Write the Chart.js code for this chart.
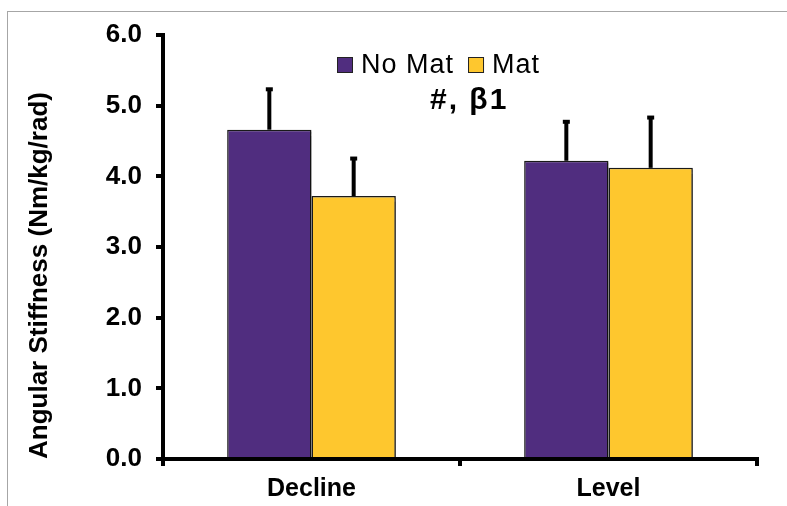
<!DOCTYPE html>
<html>
<head>
<meta charset="utf-8">
<script src="https://cdn.jsdelivr.net/npm/chart.js@4.4.0/dist/chart.umd.min.js"></script>
<style>
  html, body { margin: 0; padding: 0; background: #fff; }
  canvas { display: block; }
</style>
</head>
<body>
<canvas id="stiffness-chart" width="787" height="506"></canvas>
<script>
// values
const categories = ["Decline", "Level"];
const seriesNames = ["No Mat", "Mat"];
const noMatValues = [4.66, 4.22];
const matValues = [3.72, 4.12];
const noMatErrors = [0.60, 0.58];
const matErrors = [0.56, 0.74];
const yMin = 0;
const yMax = 6;
const yStep = 1;
const annotationText = "#, β1";

const PURPLE = "#502D7F";
const YELLOW = "#FEC72E";
const FONT = "'Liberation Sans', Arial, sans-serif";

// grey frame around the figure
const framePlugin = {
  id: "frame",
  beforeDraw(chart) {
    const ctx = chart.ctx;
    ctx.save();
    ctx.fillStyle = "#fff";
    ctx.fillRect(0, 0, chart.width, chart.height);
    ctx.strokeStyle = "#a6a6a6";
    ctx.lineWidth = 1;
    ctx.strokeRect(7.5, 11.5, chart.width + 20, chart.height + 20);
    ctx.restore();
  },
};

// bar shadow + upper error whiskers
const errorBarPlugin = {
  id: "errorBars",
  beforeDatasetsDraw(chart) {
    const ctx = chart.ctx;
    ctx.save();
    ctx.shadowColor = "rgba(0,0,0,0.28)";
    ctx.shadowOffsetX = 2;
    ctx.shadowOffsetY = 2;
    ctx.shadowBlur = 1;
  },
  afterDatasetsDraw(chart) {
    const ctx = chart.ctx;
    ctx.restore();
    const yScale = chart.scales.y;
    ctx.save();
    ctx.strokeStyle = "#000";
    ctx.fillStyle = "#000";
    ctx.lineWidth = 4;
    chart.data.datasets.forEach((ds, i) => {
      const meta = chart.getDatasetMeta(i);
      meta.data.forEach((bar, j) => {
        const top = yScale.getPixelForValue(ds.data[j] + ds.errors[j]);
        ctx.beginPath();
        ctx.moveTo(bar.x, bar.y);
        ctx.lineTo(bar.x, top + 2);
        ctx.stroke();
        ctx.fillRect(bar.x - 3.5, top, 7, 4);
      });
    });
    ctx.restore();
  },
};

// legend and significance label
const labelsPlugin = {
  id: "labels",
  afterDraw(chart) {
    const ctx = chart.ctx;
    ctx.save();
    ctx.font = "27px " + FONT;
    ctx.letterSpacing = "1px";
    ctx.textBaseline = "middle";
    let x = 337;
    const y = 65;
    chart.data.datasets.forEach((ds) => {
      ctx.fillStyle = ds.backgroundColor;
      ctx.fillRect(x, y - 8, 16, 16);
      ctx.strokeStyle = "#222";
      ctx.lineWidth = 1;
      ctx.strokeRect(x + 0.5, y - 7.5, 15, 15);
      ctx.fillStyle = "#000";
      ctx.fillText(ds.label, x + 24, y + 1);
      x += 24 + ctx.measureText(ds.label).width + 14;
    });
    ctx.font = "bold 30px " + FONT;
    ctx.letterSpacing = "2px";
    ctx.textBaseline = "alphabetic";
    ctx.fillText(annotationText, 430, 109);
    ctx.restore();
  },
};

const axisGrid = {
  display: true,
  drawOnChartArea: false,
  drawTicks: true,
  tickLength: 7,
  tickWidth: 4,
  tickColor: "#000",
  color: "#000",
  lineWidth: 4,
};

new Chart(document.getElementById("stiffness-chart"), {
  type: "bar",
  data: {
    labels: categories,
    datasets: [
      {
        label: seriesNames[0],
        data: noMatValues,
        errors: noMatErrors,
        backgroundColor: PURPLE,
        borderColor: "#1a1a1a",
        borderWidth: 1.5,
      },
      {
        label: seriesNames[1],
        data: matValues,
        errors: matErrors,
        backgroundColor: YELLOW,
        borderColor: "#1a1a1a",
        borderWidth: 1.5,
      },
    ],
  },
  options: {
    responsive: false,
    animation: false,
    devicePixelRatio: 1,
    layout: {
      padding: { left: 0, top: 35, right: 30, bottom: 0 },
    },
    datasets: {
      bar: {
        categoryPercentage: 0.568,
        barPercentage: 1,
      },
    },
    plugins: {
      legend: { display: false },
      tooltip: { enabled: false },
    },
    scales: {
      x: {
        grid: axisGrid,
        border: { display: true, color: "#000", width: 4 },
        ticks: {
          color: "#000",
          padding: 8,
          font: { family: FONT, size: 25, weight: "bold" },
        },
        afterFit(scale) {
          scale.height = 47;
        },
      },
      y: {
        min: yMin,
        max: yMax,
        grid: axisGrid,
        border: { display: true, color: "#000", width: 4 },
        ticks: {
          stepSize: yStep,
          color: "#000",
          padding: 14,
          font: { family: FONT, size: 26, weight: "bold" },
          callback: (v) => Number(v).toFixed(1),
        },
        title: {
          display: true,
          align: "start",
          text: "Angular Stiffness (Nm/kg/rad)",
          color: "#000",
          padding: { top: 24, bottom: 0 },
          font: { family: FONT, size: 26, weight: "bold" },
        },
        afterFit(scale) {
          scale.width = 163;
        },
      },
    },
  },
  plugins: [framePlugin, errorBarPlugin, labelsPlugin],
});
</script>
</body>
</html>
